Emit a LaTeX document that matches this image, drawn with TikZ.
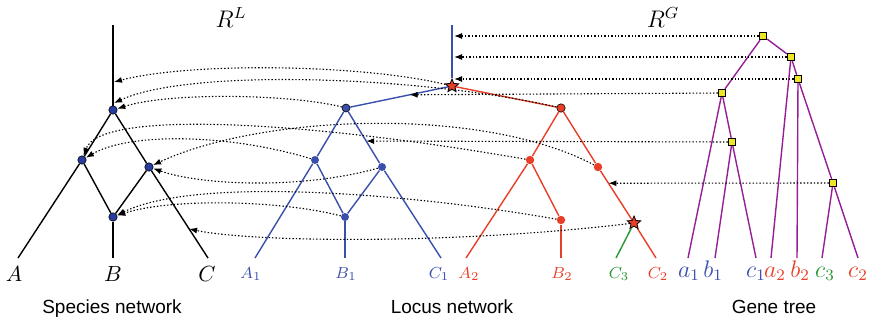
\documentclass[tikz,border=0pt]{standalone}
\usepackage{amsmath}
\usepackage{fontspec}
\newfontfamily\capfont{Liberation Sans}
\usetikzlibrary{arrows.meta,calc,shapes.geometric}

\definecolor{spblue}{RGB}{40,60,160}
\definecolor{lcblue}{RGB}{58,78,172}
\definecolor{lcred}{RGB}{232,62,40}
\definecolor{lcgreen}{RGB}{40,150,50}
\definecolor{gtpurple}{RGB}{150,30,150}
\definecolor{gtyellow}{RGB}{238,228,40}

\begin{document}
\begin{tikzpicture}[x=0.5pt,y=-0.5pt,
  spedge/.style={black,line width=0.7pt},
  lcedge/.style={line width=0.7pt},
  gtedge/.style={gtpurple,line width=0.7pt},
  sdot/.style={circle,draw=black,line width=0.3pt,fill=spblue,minimum size=4.2pt,inner sep=0pt},
  bdot/.style={circle,fill=lcblue,minimum size=4pt,inner sep=0pt},
  rdot/.style={circle,fill=lcred,minimum size=4.2pt,inner sep=0pt},
  hybstar/.style={star,star points=5,star point ratio=2.2,draw=black,line width=0.4pt,fill=lcred,minimum size=7pt,inner sep=0pt},
  gsq/.style={rectangle,draw=black,line width=0.4pt,fill=gtyellow,minimum size=3.8pt,inner sep=0pt},
  maparrow/.style={dash pattern=on 0.7pt off 1pt,line width=0.55pt,black,-{Latex[length=4pt,width=3pt]}},
  splabel/.style={anchor=base,inner sep=0pt,font=\fontsize{11}{13}\selectfont},
  lclabel/.style={anchor=base,inner sep=0pt,font=\fontsize{8.5}{10}\selectfont},
  gtlabel/.style={anchor=base,inner sep=0pt,font=\fontsize{12}{14}\selectfont},
  netcaption/.style={anchor=base,inner sep=0pt,font=\capfont\fontsize{9.5}{11}\selectfont}]

  \useasboundingbox (0,0) rectangle (871,321);

  % Species network
  \coordinate (sTop) at (113,25);
  \node[sdot] (s1) at (113,110) {};
  \node[sdot] (s2) at (82,160) {};
  \node[sdot] (s3) at (149,167) {};
  \node[sdot] (s4) at (113,217) {};
  \coordinate (sA) at (18,258);
  \coordinate (sB) at (113,258);
  \coordinate (sC) at (208,258);
  \coordinate (sR1) at (114,82);
  \coordinate (sR2) at (114,103);
  \coordinate (eC) at ($(s3)!0.68!(sC)$);
  \draw[spedge] (sTop) -- (s1);
  \draw[spedge] (s1) -- (s2);
  \draw[spedge] (s1) -- (s3);
  \draw[spedge] (s2) -- (sA);
  \draw[spedge] (s2) -- (s4);
  \draw[spedge] (s3) -- (s4);
  \draw[spedge] (s4) -- (sB);
  \draw[spedge] (s3) -- (sC);
  \node[splabel] (labA) at (14,281) {$A$};
  \node[splabel] (labB) at (113,281) {$B$};
  \node[splabel] (labC) at (207,281) {$C$};
  \node[splabel,font=\fontsize{12}{14}\selectfont] (rootL) at (231,27) {$R^L$};

  % Locus network
  \coordinate (lTop) at (452,25);
  \node[hybstar] (star) at (452,86) {};
  \node[bdot,draw=black,line width=0.3pt] (l1) at (346,108) {};
  \node[bdot] (l2) at (315,160) {};
  \node[bdot] (l3) at (382,167) {};
  \node[bdot] (l4) at (345,217) {};
  \node[rdot,draw=black,line width=0.3pt] (r1) at (561,108) {};
  \node[rdot] (r2) at (530,160) {};
  \node[rdot] (r3) at (598,167) {};
  \node[rdot] (r4) at (561,220) {};
  \node[hybstar] (star2) at (634,223) {};
  \coordinate (lA1) at (255,258);
  \coordinate (lB1) at (345,258);
  \coordinate (lC1) at (441,258);
  \coordinate (lA2) at (466,258);
  \coordinate (lB2) at (561,258);
  \coordinate (lC3) at (616,258);
  \coordinate (lC2) at (656,258);
  \coordinate (m1) at (454,36);
  \coordinate (m2) at (454,57);
  \coordinate (m3) at (454,79);
  \coordinate (e4) at ($(star)!0.4!(l1)$);
  \coordinate (e5) at ($(l1)!0.56!(l3)$);
  \coordinate (e6) at ($(r3)!0.29!(star2)$);
  \draw[lcedge,lcblue] (lTop) -- (star);
  \draw[lcedge,lcblue] (star) -- (l1);
  \draw[lcedge,lcblue] (l1) -- (l2);
  \draw[lcedge,lcblue] (l1) -- (l3);
  \draw[lcedge,lcblue] (l2) -- (lA1);
  \draw[lcedge,lcblue] (l2) -- (l4);
  \draw[lcedge,lcblue] (l3) -- (l4);
  \draw[lcedge,lcblue] (l4) -- (lB1);
  \draw[lcedge,lcblue] (l3) -- (lC1);
  \draw[lcedge,lcred] (star) -- (r1);
  \draw[lcedge,lcred] (r1) -- (r2);
  \draw[lcedge,lcred] (r1) -- (r3);
  \draw[lcedge,lcred] (r2) -- (lA2);
  \draw[lcedge,lcred] (r2) -- (r4);
  \draw[lcedge,lcred] (r4) -- (lB2);
  \draw[lcedge,lcred] (r3) -- (star2);
  \draw[lcedge,lcred] (star2) -- (lC2);
  \draw[lcedge,lcgreen] (star2) -- (lC3);
  \node[lclabel,text=lcblue] (labA1) at (251,278) {$A_1$};
  \node[lclabel,text=lcblue] (labB1) at (346,278) {$B_1$};
  \node[lclabel,text=lcblue] (labC1) at (439,278) {$C_1$};
  \node[lclabel,text=lcred] (labA2) at (469,278) {$A_2$};
  \node[lclabel,text=lcred] (labB2) at (562,278) {$B_2$};
  \node[lclabel,text=lcgreen] (labC3) at (619,278) {$C_3$};
  \node[lclabel,text=lcred] (labC2) at (658,278) {$C_2$};

  % Gene tree
  \node[gsq] (g1) at (763,36) {};
  \node[gsq] (g2) at (791,57) {};
  \node[gsq] (g3) at (798,79) {};
  \node[gsq] (g4) at (722,93) {};
  \node[gsq] (g5) at (732,142) {};
  \node[gsq] (g6) at (833,183) {};
  \coordinate (ga1) at (688,258);
  \coordinate (gb1) at (715,258);
  \coordinate (gc1) at (756,258);
  \coordinate (ga2) at (771,258);
  \coordinate (gb2) at (797,258);
  \coordinate (gc3) at (822,258);
  \coordinate (gc2) at (858,258);
  \draw[gtedge] (g1) -- (g4);
  \draw[gtedge] (g1) -- (g2);
  \draw[gtedge] (g2) -- (ga2);
  \draw[gtedge] (g2) -- (g3);
  \draw[gtedge] (g3) -- (gb2);
  \draw[gtedge] (g3) -- (g6);
  \draw[gtedge] (g6) -- (gc3);
  \draw[gtedge] (g6) -- (gc2);
  \draw[gtedge] (g4) -- (ga1);
  \draw[gtedge] (g4) -- (g5);
  \draw[gtedge] (g5) -- (gb1);
  \draw[gtedge] (g5) -- (gc1);
  \node[gtlabel,text=lcblue] (laba1) at (689,277) {$a_1$};
  \node[gtlabel,text=lcblue] (labb1) at (713,277) {$b_1$};
  \node[gtlabel,text=lcblue] (labc1) at (756,277) {$c_1$};
  \node[gtlabel,text=lcred] (laba2) at (775,277) {$a_2$};
  \node[gtlabel,text=lcred] (labb2) at (800,277) {$b_2$};
  \node[gtlabel,text=lcgreen] (labc3) at (825,277) {$c_3$};
  \node[gtlabel,text=lcred] (labc2) at (858,277) {$c_2$};
  \node[splabel,font=\fontsize{12}{14}\selectfont] (rootG) at (663,27) {$R^G$};

  % Gene tree mapped into the locus network
  \draw[maparrow] (g1) -- (m1);
  \draw[maparrow] (g2) -- (m2);
  \draw[maparrow] (g3) -- (m3);
  \draw[maparrow] (g4) -- (e4);
  \draw[maparrow] (g5) -- (e5);
  \draw[maparrow] (g6) -- (e6);

  % Locus network mapped into the species network
  \draw[maparrow] (star) .. controls (360,64) and (190,62) .. (sR1);
  \draw[maparrow] (r1) .. controls (420,76) and (190,68) .. (sR2);
  \draw[maparrow] (l1) .. controls (290,94) and (170,92) .. (s1);
  \draw[maparrow] (r2) .. controls (300,120) and (100,110) .. (s2);
  \draw[maparrow] (l2) .. controls (230,134) and (130,132) .. (s2);
  \draw[maparrow] (r3) .. controls (480,105) and (260,115) .. (s3);
  \draw[maparrow] (l3) .. controls (300,190) and (200,185) .. (s3);
  \draw[maparrow] (l4) .. controls (280,200) and (170,198) .. (s4);
  \draw[maparrow] (r4) .. controls (420,195) and (200,175) .. (s4);
  \draw[maparrow] (star2) .. controls (450,245) and (250,242) .. (eC);

  % Captions
  \node[netcaption] (capS) at (112,313) {Species network};
  \node[netcaption] (capL) at (452,313) {Locus network};
  \node[netcaption] (capG) at (774,313) {Gene tree};
\end{tikzpicture}
\end{document}
